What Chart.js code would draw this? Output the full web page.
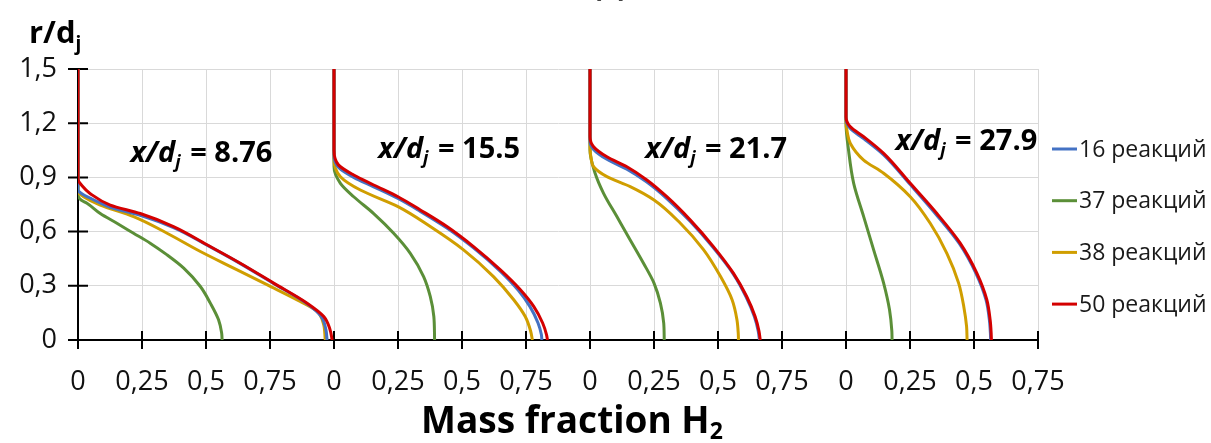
<!DOCTYPE html>
<html>
<head>
<meta charset="utf-8">
<script src="https://cdn.jsdelivr.net/npm/chart.js@4.4.1/dist/chart.umd.min.js"></script>
<style>
  body { margin: 0; background: #fff; }
  #wrap { width: 1211px; height: 443px; position: relative; }
</style>
</head>
<body>
<div id="wrap"><canvas id="chart"></canvas></div>
<script>
// x/dj of each panel
const panels = ['8.76', '15.5', '21.7', '27.9'];
const seriesNames = ['16 реакций', '37 реакций', '38 реакций', '50 реакций'];
const seriesColors = ['#4472C4', '#5B8F38', '#D09E00', '#D40000'];

// profiles [mass fraction H2, r/dj], one list per panel
const h16 = [
  [[0,1.5],[0,0.88],[0,0.83],[0.015,0.81],[0.048,0.785],[0.126,0.735],[0.243,0.69],[0.373,0.622],[0.504,0.525],[0.634,0.423],[0.764,0.313],[0.895,0.2],[0.95,0.13],[0.968,0.06],[0.973,0]],
  [[0,1.5],[0,1.05],[0,1.02],[0.018,0.955],[0.077,0.9],[0.155,0.848],[0.25,0.783],[0.337,0.712],[0.441,0.62],[0.545,0.51],[0.65,0.38],[0.72,0.275],[0.765,0.186],[0.797,0.094],[0.81,0.03],[0.812,0]],
  [[0,1.5],[0,1.15],[0,1.1],[0.014,1.055],[0.066,1.0],[0.144,0.945],[0.222,0.874],[0.3,0.783],[0.391,0.657],[0.482,0.51],[0.56,0.365],[0.61,0.238],[0.642,0.13],[0.657,0.05],[0.662,0]],
  [[0,1.5],[0,1.26],[0,1.225],[0.017,1.17],[0.069,1.115],[0.147,1.025],[0.251,0.86],[0.352,0.695],[0.443,0.533],[0.508,0.368],[0.547,0.222],[0.56,0.112],[0.564,0.04],[0.565,0]]
];
const h37 = [
  [[0,1.5],[0,0.85],[0,0.8],[0.012,0.775],[0.035,0.757],[0.087,0.7],[0.152,0.646],[0.217,0.591],[0.282,0.536],[0.348,0.471],[0.413,0.398],[0.478,0.296],[0.517,0.204],[0.549,0.112],[0.561,0.04],[0.563,0]],
  [[0,1.5],[0,1.0],[0,0.96],[0.025,0.867],[0.077,0.793],[0.155,0.7],[0.233,0.591],[0.298,0.48],[0.35,0.351],[0.376,0.241],[0.39,0.13],[0.393,0]],
  [[0,1.5],[0,1.1],[0,1.05],[0.02,0.923],[0.053,0.812],[0.105,0.683],[0.157,0.554],[0.209,0.425],[0.25,0.315],[0.275,0.204],[0.288,0.094],[0.29,0]],
  [[0,1.5],[0,1.24],[0,1.2],[0.01,1.05],[0.03,0.867],[0.069,0.683],[0.108,0.499],[0.147,0.315],[0.17,0.167],[0.179,0.05],[0.18,0]]
];
const h38 = [
  [[0,1.5],[0,0.88],[0,0.82],[0.02,0.795],[0.087,0.747],[0.217,0.683],[0.348,0.591],[0.478,0.49],[0.608,0.398],[0.738,0.306],[0.868,0.213],[0.934,0.158],[0.958,0.094],[0.966,0]],
  [[0,1.5],[0,1.05],[0,1.0],[0.025,0.904],[0.103,0.83],[0.25,0.738],[0.376,0.628],[0.506,0.499],[0.623,0.351],[0.702,0.223],[0.747,0.13],[0.768,0.05],[0.775,0]],
  [[0,1.5],[0,1.12],[0,1.07],[0.005,1.0],[0.014,0.959],[0.066,0.904],[0.157,0.849],[0.25,0.775],[0.353,0.646],[0.444,0.499],[0.51,0.351],[0.555,0.223],[0.574,0.112],[0.579,0.04],[0.58,0]],
  [[0,1.5],[0,1.25],[0,1.21],[0.005,1.15],[0.017,1.088],[0.069,0.996],[0.147,0.923],[0.251,0.793],[0.329,0.646],[0.394,0.48],[0.44,0.315],[0.46,0.186],[0.471,0.075],[0.473,0]]
];
const h50 = [
  [[0,1.5],[0,0.95],[0,0.89],[0.015,0.855],[0.048,0.81],[0.126,0.747],[0.243,0.7],[0.373,0.628],[0.504,0.527],[0.634,0.425],[0.764,0.315],[0.895,0.204],[0.96,0.13],[0.984,0.06],[0.993,0]],
  [[0,1.5],[0,1.1],[0,1.05],[0.018,0.968],[0.077,0.913],[0.155,0.858],[0.25,0.793],[0.337,0.72],[0.441,0.628],[0.545,0.517],[0.65,0.388],[0.728,0.278],[0.78,0.186],[0.815,0.094],[0.83,0.03],[0.834,0]],
  [[0,1.5],[0,1.18],[0,1.125],[0.014,1.07],[0.066,1.014],[0.144,0.959],[0.222,0.886],[0.3,0.793],[0.391,0.665],[0.482,0.517],[0.56,0.37],[0.612,0.241],[0.645,0.13],[0.66,0.05],[0.665,0]],
  [[0,1.5],[0,1.27],[0,1.235],[0.017,1.18],[0.069,1.125],[0.147,1.033],[0.251,0.867],[0.355,0.7],[0.446,0.536],[0.511,0.37],[0.55,0.223],[0.563,0.112],[0.567,0.04],[0.568,0]]
];
const allSeries = [h16, h37, h38, h50];

const yTicks = { min: 0, max: 1.5, step: 0.3 };
const xTicks = { min: 0, max: 3.75, step: 0.25 };

// panels sit side by side on one axis, each one unit wide
function toPoints(profiles) {
  const pts = [];
  profiles.forEach((prof, k) => {
    if (k > 0) pts.push({ x: null, y: null });
    prof.forEach(p => pts.push({ x: p[0] + k, y: p[1] }));
  });
  return pts;
}

const FONT = '"Open Sans", "Noto Sans", sans-serif';

function richText(ctx, parts, x, y) {
  let cx = x;
  parts.forEach(p => {
    ctx.font = p.font;
    ctx.fillText(p.t, cx, y + (p.dy || 0));
    cx += ctx.measureText(p.t).width + (p.gap || 0);
  });
}

const crossTicks = {
  id: 'crossTicks',
  beforeDatasetsDraw(chart) {
    const { ctx, chartArea: a, scales: { x, y } } = chart;
    ctx.save();
    ctx.strokeStyle = '#000';
    ctx.lineWidth = 2;
    ctx.beginPath();
    x.ticks.forEach(t => {
      const px = x.getPixelForValue(t.value);
      ctx.moveTo(px, a.bottom - 9); ctx.lineTo(px, a.bottom + 9);
    });
    y.ticks.forEach(t => {
      const py = y.getPixelForValue(t.value);
      ctx.moveTo(a.left - 10, py); ctx.lineTo(a.left + 10, py);
    });
    ctx.stroke();
    ctx.restore();
  }
};

const labelsPlugin = {
  id: 'labelsPlugin',
  afterDraw(chart, args, opts) {
    const { ctx, scales: { x, y } } = chart;
    ctx.save();
    ctx.fillStyle = '#000';
    ctx.textBaseline = 'alphabetic';
    ctx.textAlign = 'left';
    // panel labels
    panels.forEach((v, i) => {
      const px = x.getPixelForValue(opts.annX[i]);
      const py = y.getPixelForValue(opts.annY[i]);
      richText(ctx, [
        { t: 'x/d', font: 'italic bold 29px ' + FONT },
        { t: 'j', font: 'italic bold 18px ' + FONT, dy: 6, gap: 2 },
        { t: ' = ' + v, font: 'bold 29px ' + FONT }
      ], px, py);
    });
    // y title
    richText(ctx, [
      { t: 'r/d', font: 'bold 31px ' + FONT },
      { t: 'j', font: 'bold 19px ' + FONT, dy: 7 }
    ], 29, 43);
    // x title
    richText(ctx, [
      { t: 'Mass fraction H', font: 'bold 37px ' + FONT },
      { t: '2', font: 'bold 23px ' + FONT, dy: 6 }
    ], 421, 433);
    // cut-off panel letter at the top
    ctx.textAlign = 'center';
    ctx.font = 'bold 30px ' + FONT;
    ctx.fillText('(c)', 610, -4);
    // legend
    ctx.textAlign = 'left';
    ctx.textBaseline = 'middle';
    ctx.font = '23px ' + FONT;
    chart.data.datasets.forEach((ds, i) => {
      const ly = 149 + i * 51.7;
      ctx.strokeStyle = ds.borderColor;
      ctx.lineWidth = 3;
      ctx.beginPath(); ctx.moveTo(1052, ly); ctx.lineTo(1077, ly); ctx.stroke();
      ctx.fillStyle = '#1a1a1a';
      ctx.fillText(ds.label, 1079, ly + 1);
    });
    ctx.restore();
  }
};

const drawOrder = [1, 3, 2, 0]; // red on top

new Chart(document.getElementById('chart'), {
  type: 'line',
  data: {
    datasets: allSeries.map((s, i) => ({
      label: seriesNames[i],
      data: toPoints(s),
      borderColor: seriesColors[i],
      backgroundColor: seriesColors[i],
      borderWidth: 3,
      pointRadius: 0,
      cubicInterpolationMode: 'monotone',
      spanGaps: false,
      order: drawOrder[i]
    }))
  },
  options: {
    indexAxis: 'y',
    responsive: true,
    maintainAspectRatio: false,
    animation: false,
    layout: { padding: { top: 69, right: 173, left: 0, bottom: 0 } },
    plugins: {
      legend: { display: false },
      tooltip: { enabled: false },
      labelsPlugin: {
        annX: [0.205, 1.173, 2.216, 3.193],
        annY: [0.985, 1.006, 1.006, 1.051]
      }
    },
    scales: {
      x: {
        type: 'linear',
        min: xTicks.min,
        max: xTicks.max,
        afterFit: s => { s.height = 103; },
        grid: { color: '#d9d9d9', lineWidth: 1, drawTicks: false },
        border: { color: '#000', width: 2 },
        ticks: {
          stepSize: xTicks.step,
          autoSkip: false,
          maxRotation: 0,
          padding: 26,
          color: '#111',
          font: { family: FONT, size: 27 },
          callback: v => {
            const f = Math.round((v - Math.floor(v + 1e-9)) * 100) / 100;
            return f === 0 ? '0' : String(f).replace('.', ',');
          }
        }
      },
      y: {
        type: 'linear',
        min: yTicks.min,
        max: yTicks.max,
        afterFit: s => { s.width = 78; },
        grid: { color: '#d9d9d9', lineWidth: 1, drawTicks: false },
        border: { color: '#000', width: 2 },
        ticks: {
          stepSize: yTicks.step,
          padding: 21,
          color: '#111',
          font: { family: FONT, size: 27 },
          callback: v => v === 0 ? '0' : v.toFixed(1).replace('.', ',')
        }
      }
    }
  },
  plugins: [crossTicks, labelsPlugin]
});
</script>
</body>
</html>
